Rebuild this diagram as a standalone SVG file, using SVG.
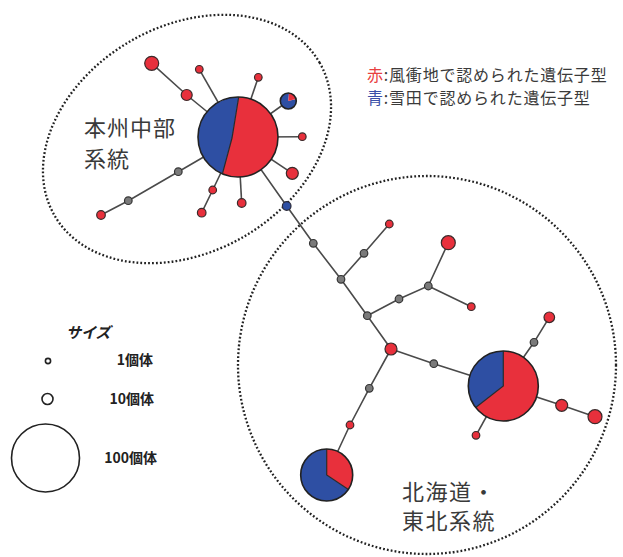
<svg xmlns="http://www.w3.org/2000/svg" width="623" height="557" viewBox="0 0 623 557">
<style>
.bg{fill:#fff}
.grp{fill:none;stroke:#222;stroke-width:2.3;stroke-dasharray:1.8 2.1}
.e{stroke:#4a4a4a;stroke-width:1.6;fill:none}
.r{fill:#e8303c;stroke:#3a2a2a;stroke-width:1.2}
.b{fill:#2e4fa3;stroke:#2a2a3a;stroke-width:1.2}
.g{fill:#7a7a7a;stroke:#333;stroke-width:1.2}
.pr{fill:#e8303c}
.pb{fill:#2e4fa3}
.ring{fill:none;stroke:#222;stroke-width:1.6}
.lbl{font-family:"Noto Sans CJK JP","Noto Sans",sans-serif;fill:#3a3a3a}
.leg{font-family:"Noto Sans CJK JP","Noto Sans",sans-serif;font-weight:bold;fill:#222}
</style>
<rect class="bg" x="0" y="0" width="623" height="557"/>

<g id="groups">
<ellipse class="grp" cx="187" cy="139" rx="153" ry="113" transform="rotate(-30 187 139)"/>
<circle class="grp" cx="427" cy="365" r="189"/>
</g>

<g id="connectors">
<polyline class="e" points="238,137 186.7,95 151.7,63.3"/>
<line class="e" x1="238" y1="137" x2="199.3" y2="69.3"/>
<line class="e" x1="238" y1="137" x2="258.3" y2="77.3"/>
<line class="e" x1="238" y1="137" x2="288.3" y2="101"/>
<line class="e" x1="238" y1="137" x2="302.3" y2="136.7"/>
<line class="e" x1="238" y1="137" x2="292.3" y2="173.3"/>
<polyline class="e" points="238,137 286.7,206 313.3,243.3 341,279.3"/>
<line class="e" x1="238" y1="137" x2="241.7" y2="203"/>
<polyline class="e" points="238,137 212.7,190 201.7,212.7"/>
<polyline class="e" points="238,137 178.3,171.7 128.3,200.7 101,215"/>
<polyline class="e" points="341,279.3 364,253.3 389.3,224"/>
<polyline class="e" points="341,279.3 367.3,315.7 391,349"/>
<polyline class="e" points="367.3,315.7 399,299 428.3,286 448.3,242.7"/>
<line class="e" x1="428.3" y1="286" x2="471.3" y2="306.7"/>
<polyline class="e" points="391,349 433.8,363.7 503.3,386"/>
<polyline class="e" points="391,349 369.3,388.3 350,425 326.7,475"/>
<polyline class="e" points="503.3,386 534,342.3 549.3,317.3"/>
<polyline class="e" points="503.3,386 561.7,405.3 595,416.7"/>
<line class="e" x1="503.3" y1="386" x2="476" y2="435.3"/>
</g>

<g id="hub-honshu">
<path class="pr" d="M232,138 L238.7,97 A40,40 0 1 1 222.4,173.8 Z"/>
<path class="pb" d="M232,138 L222.4,173.8 A40,40 0 0 1 238.7,97 Z"/>
<path d="M238.7,97 L232,138 L222.4,173.8" fill="none" stroke="#2a2a2a" stroke-width="1.2"/>
<circle class="ring" cx="238" cy="137" r="40"/>
</g>
<g id="hub-tohoku">
<path class="pr" d="M503.3,386 L503.3,351 A35,35 0 1 1 475.7,407.5 Z"/>
<path class="pb" d="M503.3,386 L475.7,407.5 A35,35 0 0 1 503.3,351 Z"/>
<path d="M503.3,351 L503.3,386 L475.7,407.5" fill="none" stroke="#2a2a2a" stroke-width="1.2"/>
<circle class="ring" cx="503.3" cy="386" r="35"/>
</g>
<g id="hub-hokkaido">
<path class="pr" d="M326.7,475 L326.7,449 A26,26 0 0 1 348.4,489.4 Z"/>
<path class="pb" d="M326.7,475 L348.4,489.4 A26,26 0 1 1 326.7,449 Z"/>
<path d="M326.7,449 L326.7,475 L348.4,489.4" fill="none" stroke="#2a2a2a" stroke-width="1.2"/>
<circle class="ring" cx="326.7" cy="475" r="26"/>
</g>
<g id="pie-small">
<path class="pb" d="M288.3,101 L296,98.9 A8,8 0 1 1 289,93 Z"/>
<path class="pr" d="M288.3,101 L289,93 A8,8 0 0 1 296,98.9 Z"/>
<circle class="ring" cx="288.3" cy="101" r="8" stroke-width="1.3"/>
</g>

<g id="n1"><circle class="r" cx="151.7" cy="63.3" r="7"/></g>
<g id="n2"><circle class="r" cx="186.7" cy="95" r="5.5"/></g>
<g id="n3"><circle class="r" cx="199.3" cy="69.3" r="3.8"/></g>
<g id="n4"><circle class="r" cx="258.3" cy="77.3" r="3.8"/></g>
<g id="n5"><circle class="r" cx="302.3" cy="136.7" r="3.8"/></g>
<g id="n6"><circle class="r" cx="292.3" cy="173.3" r="6"/></g>
<g id="n7"><circle class="b" cx="286.7" cy="206" r="4.3"/></g>
<g id="n8"><circle class="r" cx="241.7" cy="203" r="4.3"/></g>
<g id="n9"><circle class="r" cx="212.7" cy="190" r="3.8"/></g>
<g id="n10"><circle class="r" cx="201.7" cy="212.7" r="4.3"/></g>
<g id="n11"><circle class="g" cx="178.3" cy="171.7" r="3.8"/></g>
<g id="n12"><circle class="g" cx="128.3" cy="200.7" r="3.8"/></g>
<g id="n13"><circle class="r" cx="101" cy="215" r="4.3"/></g>
<g id="n14"><circle class="g" cx="313.3" cy="243.3" r="3.8"/></g>
<g id="n15"><circle class="g" cx="341" cy="279.3" r="3.8"/></g>
<g id="n16"><circle class="g" cx="364" cy="253.3" r="3.8"/></g>
<g id="n17"><circle class="r" cx="389.3" cy="224" r="3.8"/></g>
<g id="n18"><circle class="g" cx="367.3" cy="315.7" r="3.8"/></g>
<g id="n19"><circle class="g" cx="399" cy="299" r="3.8"/></g>
<g id="n20"><circle class="g" cx="428.3" cy="286" r="3.8"/></g>
<g id="n21"><circle class="r" cx="448.3" cy="242.7" r="7"/></g>
<g id="n22"><circle class="r" cx="471.3" cy="306.7" r="3.8"/></g>
<g id="n23"><circle class="r" cx="391" cy="349" r="6"/></g>
<g id="n24"><circle class="g" cx="433.8" cy="363.7" r="3.8"/></g>
<g id="n25"><circle class="g" cx="369.3" cy="388.3" r="3.8"/></g>
<g id="n26"><circle class="r" cx="350" cy="425" r="3.8"/></g>
<g id="n27"><circle class="g" cx="534" cy="342.3" r="3.8"/></g>
<g id="n28"><circle class="r" cx="549.3" cy="317.3" r="5.3"/></g>
<g id="n29"><circle class="r" cx="561.7" cy="405.3" r="6"/></g>
<g id="n30"><circle class="r" cx="595" cy="416.7" r="7"/></g>
<g id="n31"><circle class="r" cx="476" cy="435.3" r="3.8"/></g>

<g id="label-honshu">
<text class="lbl" x="84" y="136" font-size="22" letter-spacing="1">本州中部</text>
<text class="lbl" x="84" y="167" font-size="22" letter-spacing="1">系統</text>
</g>
<g id="label-hokkaido">
<text class="lbl" x="402" y="500" font-size="22" letter-spacing="1.5">北海道・</text>
<text class="lbl" x="402" y="529" font-size="22" letter-spacing="1.5">東北系統</text>
</g>

<g id="legend-color">
<text class="lbl" x="367" y="81" font-size="16" letter-spacing="0.8"><tspan fill="#e8403f">赤</tspan>:風衝地で認められた遺伝子型</text>
<text class="lbl" x="367" y="104" font-size="16" letter-spacing="0.8"><tspan fill="#3a4fa8">青</tspan>:雪田で認められた遺伝子型</text>
</g>

<g id="legend-size">
<text class="leg" x="66" y="338" font-size="15" font-style="italic">サイズ</text>
<circle class="ring" cx="48" cy="361" r="2.6" stroke-width="1.3"/>
<text class="leg" x="153" y="365" font-size="14" text-anchor="end">1個体</text>
<circle class="ring" cx="47.5" cy="399" r="5.5" stroke-width="1.3"/>
<text class="leg" x="154" y="404" font-size="14" text-anchor="end">10個体</text>
<circle class="ring" cx="45.5" cy="458" r="34" stroke-width="1.4"/>
<text class="leg" x="157" y="463" font-size="14" text-anchor="end">100個体</text>
</g>
</svg>
